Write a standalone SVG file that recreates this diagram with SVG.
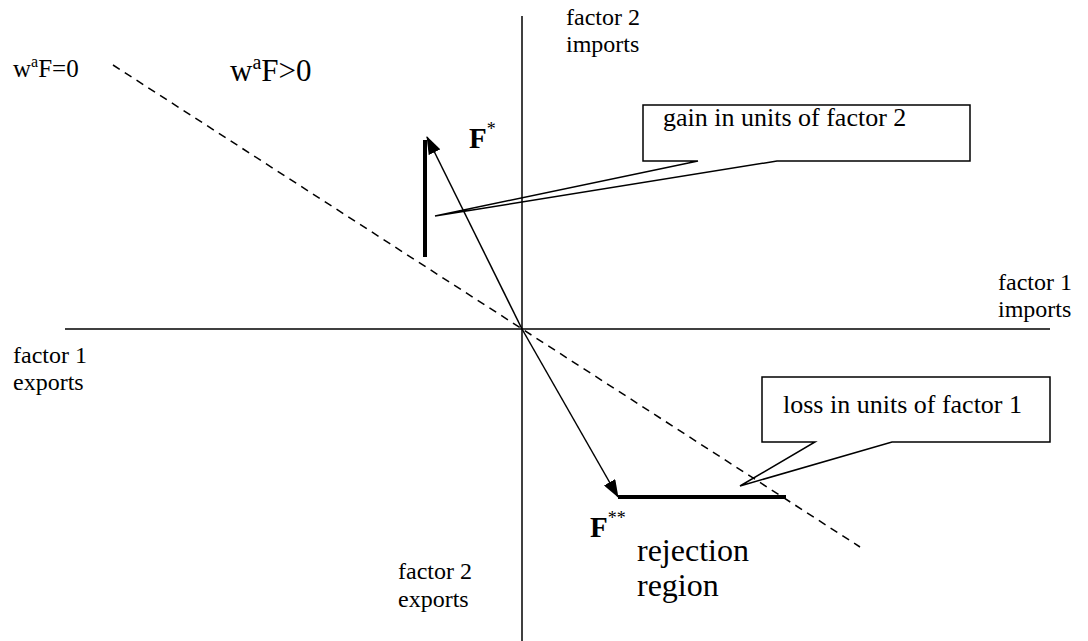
<svg xmlns="http://www.w3.org/2000/svg" width="1088" height="641" viewBox="0 0 1088 641">
<style>
text{font-family:"Liberation Serif","Times New Roman",serif;fill:#000}
.lbl{font-size:24px}
.call{font-size:26px}
.ln{stroke:#000;stroke-width:1.5;fill:none}
.thick{stroke:#000;stroke-width:4;fill:none}
.box{stroke:#000;stroke-width:1.5;fill:#fff}
</style>
<defs>
<marker id="ah" markerWidth="18" markerHeight="13" refX="17" refY="6.5" orient="auto" markerUnits="userSpaceOnUse">
<path d="M0,0 L18,6.5 L0,13 Z" fill="#000"/>
</marker>
</defs>
<rect width="1088" height="641" fill="#fff"/>
<g id="gain-callout">
<path class="box" d="M643,105 H970 V161 H777 L435,216 L698,161 H643 Z"/>
<text class="call" x="663" y="126">gain in units of factor 2</text>
</g>
<g id="loss-callout">
<path class="box" d="M762,377 H1050 V442 H892 L740,486 L815,442 H762 Z"/>
<text class="call" x="783" y="413">loss in units of factor 1</text>
</g>
<g id="connectors">
<line class="ln" x1="522" y1="16" x2="522" y2="641"/>
<line class="ln" x1="65" y1="329" x2="1050" y2="329"/>
<line class="ln" x1="113" y1="65" x2="860" y2="547" stroke-dasharray="8,6"/>
<line class="ln" x1="522" y1="329" x2="427" y2="137" marker-end="url(#ah)"/>
<line class="ln" x1="522" y1="329" x2="618" y2="497" marker-end="url(#ah)"/>
<line class="thick" x1="425" y1="140" x2="425" y2="257"/>
<line class="thick" x1="618" y1="497" x2="786" y2="497"/>
</g>
<g id="labels">
<text class="lbl" x="566" y="25">factor 2</text>
<text class="lbl" x="566" y="52">imports</text>
<text class="lbl" x="998" y="290">factor 1</text>
<text class="lbl" x="998" y="317">imports</text>
<text class="lbl" x="13" y="363">factor 1</text>
<text class="lbl" x="13" y="390">exports</text>
<text class="lbl" x="398" y="579">factor 2</text>
<text class="lbl" x="398" y="607">exports</text>
<text x="13" y="77" font-size="25">w<tspan font-size="16" dy="-10">a</tspan><tspan dy="10">F=0</tspan></text>
<text x="230" y="81" font-size="31">w<tspan font-size="20" dy="-12">a</tspan><tspan dy="12">F&gt;0</tspan></text>
<text x="469" y="148" font-size="29" font-weight="bold">F<tspan font-size="18" font-weight="normal" dy="-13">*</tspan></text>
<text x="590" y="537" font-size="29" font-weight="bold">F<tspan font-size="18" font-weight="normal" dy="-13">**</tspan></text>
<text x="637" y="561" font-size="32">rejection</text>
<text x="637" y="596" font-size="32">region</text>
</g>
</svg>
